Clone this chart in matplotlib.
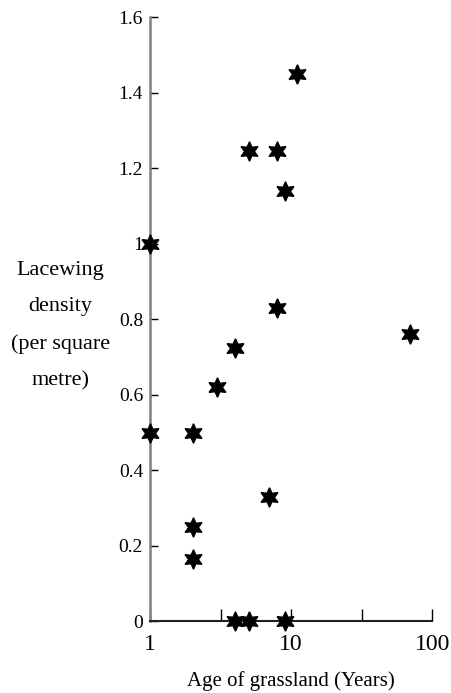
import numpy as np
import matplotlib
matplotlib.use("Agg")
import matplotlib.pyplot as plt

plt.rcParams['font.family'] = ['Liberation Serif', 'DejaVu Serif']

# age of grassland (years) and lacewing density (per m2)
age = [1, 1, 2, 2, 2, 3, 4, 4, 5, 5, 7, 8, 8, 9, 9, 11, 70]
density = [1.0, 0.5, 0.5, 0.25, 0.165, 0.62, 0.725, 0, 0, 1.245, 0.33, 1.245, 0.83, 1.14, 0, 1.45, 0.76]

y_ticks = [0, 0.2, 0.4, 0.6, 0.8, 1.0, 1.2, 1.4, 1.6]
y_tick_labels = ['0', '0.2', '0.4', '0.6', '0.8', '1', '1.2', '1.4', '1.6']
x_ticks = [1, 10, 100]
x_tick_labels = ['1', '10', '100']

fig = plt.figure(figsize=(4.52, 6.93), dpi=100)
ax = fig.add_axes([0.3319, 0.1035, 0.6245, 0.8715])

ax.plot(age, density, linestyle='none', marker=(6, 1, 0), markersize=14,
        color='black', clip_on=False, zorder=5)

ax.set_xscale('log')
ax.set_xlim(1, 100)
ax.set_ylim(0, 1.6)

ax.set_xticks(x_ticks)
ax.set_xticklabels(x_tick_labels, fontsize=17)
ax.set_xticks([10 ** 0.5, 10 ** 1.5], minor=True)
ax.set_yticks(y_ticks)
ax.set_yticklabels(y_tick_labels, fontsize=14)

ax.tick_params(axis='x', which='both', direction='in', length=9, width=1, pad=9)
ax.tick_params(axis='x', which='minor', labelbottom=False)
ax.tick_params(axis='y', direction='in', length=6, width=1, pad=5)

for side in ['top', 'right']:
    ax.spines[side].set_visible(False)
ax.spines['left'].set_color('#808080')
ax.spines['left'].set_linewidth(1.8)
ax.spines['bottom'].set_color('#202020')
ax.spines['bottom'].set_linewidth(1.5)

ax.set_xlabel('Age of grassland (Years)', fontsize=15, labelpad=12)
fig.text(0.133, 0.53, 'Lacewing\ndensity\n(per square\nmetre)', fontsize=16,
         ha='center', va='center', linespacing=2.2)

fig.savefig('out.png', dpi=100)
